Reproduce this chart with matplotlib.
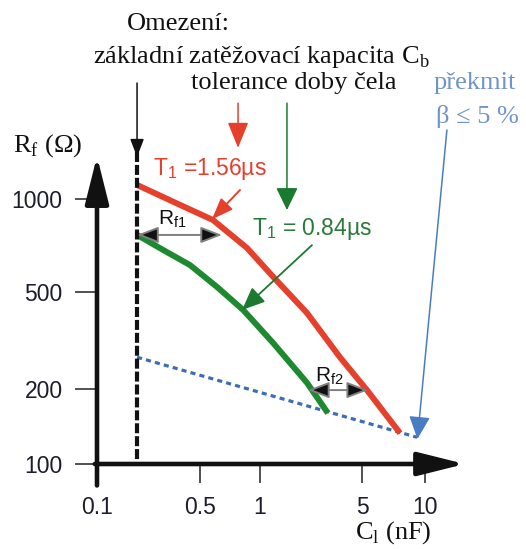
import numpy as np
import matplotlib
matplotlib.use("Agg")
import matplotlib.pyplot as plt
from matplotlib.ticker import FixedLocator, NullLocator

plt.rcParams['font.family'] = ['Liberation Sans', 'DejaVu Sans']
SERIF = ['Liberation Serif', 'DejaVu Serif']

W, H = 526, 549

# tick values and their labels
x_ticks = [0.1, 0.5, 1, 5, 10]
x_ticklabels = ['0.1', '0.5', '1', '5', '10']
y_ticks = [100, 200, 500, 1000]
y_ticklabels = ['100', '200', '500', '1000']

# base load capacitance C_b (nF)
c_b = 0.187

# R_f over C_l for the two front times
c_red = [0.187, 0.366, 0.581, 0.861, 1.23, 2.10, 3.53, 5.28, 7.6]
rf_red = [1130, 957, 855, 694, 560, 410, 270, 198, 133]
c_green = [0.187, 0.281, 0.428, 0.609, 0.823, 1.23, 2.10, 2.92]
rf_green = [765, 684, 611, 519, 422, 309, 212, 160]

# overshoot limit beta <= 5 %
c_limit = [0.187, 9.16]
rf_limit = [270, 128]

# R_f ranges between the curves
rf1_c = [0.187, 0.645]
rf1_level = 765
rf2_c = [2.13, 5.35]
rf2_level = 198

RED = '#e5402c'
GREEN = '#1e8a30'
DARKGREEN = '#1a7a30'
BLUE = '#3d6db5'
LIGHTBLUE = '#7094c8'
INK = '#111111'

# the drawing is schematic: decades are not spaced evenly, so the axes map
# log10(value) piecewise onto drawing units (1 unit = 1 pixel)
x_log_anchor = [-2, -1, np.log10(0.5), 0, np.log10(5), 1, 2]
x_unit_anchor = [-164, 0, 103, 163, 265, 328, 492]
y_log_anchor = [1, 2, np.log10(200), np.log10(500), 3, 4]
y_unit_anchor = [-265, 0, 75, 172, 265, 530]


def x_fwd(v):
    return np.interp(np.log10(np.clip(v, 1e-9, None)), x_log_anchor, x_unit_anchor)


def x_inv(u):
    return 10 ** np.interp(u, x_unit_anchor, x_log_anchor)


def y_fwd(v):
    return np.interp(np.log10(np.clip(v, 1e-9, None)), y_log_anchor, y_unit_anchor)


def y_inv(u):
    return 10 ** np.interp(u, y_unit_anchor, y_log_anchor)


fig = plt.figure(figsize=(W / 100, H / 100), dpi=100)
ax = fig.add_axes([97 / W, 85 / H, (W - 97) / W, 464 / H])
ax.set_xscale('function', functions=(x_fwd, x_inv))
ax.set_yscale('function', functions=(y_fwd, y_inv))
ax.set_xlim(0.1, x_inv(W - 97))
ax.set_ylim(100, y_inv(464))
ax.patch.set_visible(False)
for s in ax.spines.values():
    s.set_visible(False)

ax.xaxis.set_major_locator(FixedLocator(x_ticks))
ax.xaxis.set_minor_locator(NullLocator())
ax.set_xticklabels(x_ticklabels)
ax.yaxis.set_major_locator(FixedLocator(y_ticks))
ax.yaxis.set_minor_locator(NullLocator())
ax.set_yticklabels(y_ticklabels)
ax.tick_params(axis='y', direction='out', length=15.8, width=1.1, pad=9,
               labelsize=16.5, color='#222222', labelcolor='#1c1c2c')
ax.tick_params(axis='x', direction='out', length=13.7, width=1.1, pad=9,
               labelsize=16.5, color='#222222', labelcolor='#1c1c2c')

# axes drawn as thick arrows
axis_arrow = dict(arrowstyle='-|>,head_length=1.44,head_width=0.36', mutation_scale=20,
                  lw=3.3, color=INK, shrinkA=0, shrinkB=0)
ax.annotate('', xy=(17.5, 100), xytext=(0.097, 100), arrowprops=axis_arrow,
            annotation_clip=False)
ax.annotate('', xy=(0.1, 1450), xytext=(0.1, 83), arrowprops=axis_arrow,
            annotation_clip=False)

# curves
ax.plot(c_limit, rf_limit, color=BLUE, lw=2.3, linestyle=(0, (1.6, 1.3)), zorder=3)
ax.plot(c_red, rf_red, color=RED, lw=4.3, solid_capstyle='butt',
        solid_joinstyle='round', zorder=4)
ax.plot(c_green, rf_green, color=GREEN, lw=4.3, solid_capstyle='butt',
        solid_joinstyle='round', zorder=4)
ax.plot([c_b, c_b], [1500, 100], color=INK, lw=3, dashes=(2.4, 0.7), zorder=5,
        clip_on=False)

# R_f1 / R_f2 range arrows
rng_arrow = dict(arrowstyle='<|-|>,head_length=1.3,head_width=0.5', mutation_scale=10,
                 lw=1.4, ec='#808080', fc=INK, shrinkA=0, shrinkB=0)
ax.annotate('', xy=(rf1_c[1], rf1_level), xytext=(rf1_c[0], rf1_level),
            arrowprops=rng_arrow, zorder=6)
ax.annotate('', xy=(rf2_c[1], rf2_level), xytext=(rf2_c[0], rf2_level),
            arrowprops=rng_arrow, zorder=6)
ax.text(0.323, 861, 'R$_\\mathregular{f1}$', fontsize=15, color=INK, ha='center', va='center')
ax.text(2.97, 226, 'R$_\\mathregular{f2}$', fontsize=15, color=INK, ha='center', va='center')


# pointer arrows
def pointer(xy, xytext, color, hl, hw, lw=1.1):
    ax.annotate('', xy=xy, xytext=xytext, annotation_clip=False,
                arrowprops=dict(arrowstyle=f'-|>,head_length={hl},head_width={hw}',
                                mutation_scale=10, lw=lw, color=color,
                                shrinkA=0, shrinkB=0), zorder=6)


pointer((0.187, 1440), (0.187, 2740), INK, 1.1, 0.42)
pointer((0.776, 1560), (0.776, 2300), RED, 1.6, 0.65)
pointer((1.53, 921), (1.53, 2300), DARKGREEN, 1.4, 0.68)
pointer((0.574, 860), (0.794, 1081), RED, 1.3, 0.5, lw=1.4)
pointer((0.813, 422), (2.27, 709), DARKGREEN, 1.4, 0.6, lw=1.3)
pointer((9.2, 126), (13.6, 1820), '#4a7cc4', 1.4, 0.65)

# labels
ax.text(0.24, 1300, 'T$_\\mathregular{1}$ =1.56µs', fontsize=16.5, color=RED,
        ha='left', va='center')
ax.text(0.91, 800, 'T$_\\mathregular{1}$ = 0.84µs', fontsize=16.5, color='#2a7a3a',
        ha='left', va='center')

fig.text(178 / W, 1 - 24 / H, 'Omezení:', family=SERIF, fontsize=19,
         ha='center', va='center', color=INK)
fig.text(261 / W, 1 - 57 / H, 'základní zatěžovací kapacita C$_\\mathregular{b}$',
         family=SERIF, fontsize=19, ha='center', va='center', color=INK)
fig.text(294 / W, 1 - 83 / H, 'tolerance doby čela', family=SERIF, fontsize=19,
         ha='center', va='center', color=INK)
fig.text(475 / W, 1 - 83 / H, 'překmit', family=SERIF, fontsize=19,
         ha='center', va='center', color=LIGHTBLUE)
fig.text(477 / W, 1 - 116 / H, 'β ≤ 5 %', family=SERIF, fontsize=19,
         ha='center', va='center', color=LIGHTBLUE)
fig.text(13 / W, 1 - 146 / H, 'R$_\\mathregular{f}$ (Ω)', family=SERIF, fontsize=19,
         ha='left', va='center', color=INK)
fig.text(393 / W, 1 - 533 / H, 'C$_\\mathregular{l}$ (nF)', family=SERIF, fontsize=19,
         ha='center', va='center', color=INK)

fig.savefig('out.png', dpi=100)
